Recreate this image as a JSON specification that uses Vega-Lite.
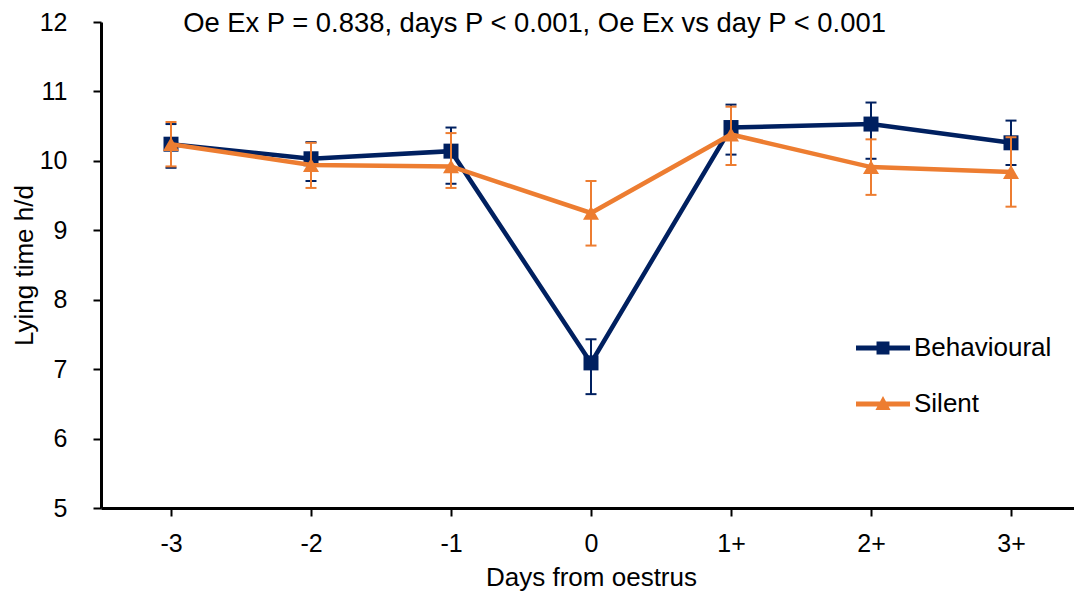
{
  "$schema": "https://vega.github.io/schema/vega-lite/v6.json",
  "width": 973,
  "height": 486,
  "autosize": {"type": "none"},
  "padding": {"left": 101, "top": 22, "right": 0, "bottom": 85},
  "background": "white",
  "config": {"font": "Liberation Sans", "view": {"stroke": null}},
  "title": {
    "text": "Oe Ex P = 0.838, days P < 0.001, Oe Ex vs day P < 0.001",
    "fontSize": 27.4, "fontWeight": "normal", "color": "black",
    "anchor": "middle", "frame": "group", "dx": -53, "dy": 33, "offset": -16, "baseline": "alphabetic"
  },
  "data": {"values": [
    {"day": "-3", "series": "Behavioural", "mean": 10.24, "lo": 9.90, "hi": 10.53},
    {"day": "-2", "series": "Behavioural", "mean": 10.03, "lo": 9.71, "hi": 10.27},
    {"day": "-1", "series": "Behavioural", "mean": 10.14, "lo": 9.67, "hi": 10.48},
    {"day": "0", "series": "Behavioural", "mean": 7.09, "lo": 6.64, "hi": 7.43},
    {"day": "1+", "series": "Behavioural", "mean": 10.48, "lo": 10.09, "hi": 10.81},
    {"day": "2+", "series": "Behavioural", "mean": 10.53, "lo": 10.03, "hi": 10.84},
    {"day": "3+", "series": "Behavioural", "mean": 10.26, "lo": 9.94, "hi": 10.58},
    {"day": "-3", "series": "Silent", "mean": 10.24, "lo": 9.92, "hi": 10.56},
    {"day": "-2", "series": "Silent", "mean": 9.94, "lo": 9.61, "hi": 10.26},
    {"day": "-1", "series": "Silent", "mean": 9.92, "lo": 9.61, "hi": 10.40},
    {"day": "0", "series": "Silent", "mean": 9.25, "lo": 8.78, "hi": 9.71},
    {"day": "1+", "series": "Silent", "mean": 10.38, "lo": 9.94, "hi": 10.78},
    {"day": "2+", "series": "Silent", "mean": 9.91, "lo": 9.51, "hi": 10.31},
    {"day": "3+", "series": "Silent", "mean": 9.84, "lo": 9.34, "hi": 10.34}
  ]},
  "encoding": {
    "x": {
      "field": "day", "type": "ordinal", "sort": ["-3", "-2", "-1", "0", "1+", "2+", "3+"],
      "scale": {"type": "point", "range": [0, 980], "padding": 0.5},
      "axis": {
        "title": "Days from oestrus", "labelAngle": 0, "grid": false,
        "domainColor": "black", "domainWidth": 3,
        "tickColor": "black", "tickWidth": 2, "tickSize": 8,
        "labelFontSize": 25, "labelColor": "black", "labelPadding": 15,
        "titleFontSize": 26, "titleFontWeight": "normal", "titleColor": "black", "titlePadding": 8
      }
    },
    "y": {
      "type": "quantitative",
      "scale": {"domain": [5, 12], "nice": false, "zero": false},
      "axis": {
        "title": "Lying time h/d", "grid": false, "values": [5, 6, 7, 8, 9, 10, 11, 12],
        "domainColor": "black", "domainWidth": 3,
        "tickColor": "black", "tickWidth": 2, "tickSize": 8,
        "labelFontSize": 25, "labelColor": "black", "labelPadding": 26,
        "titleFontSize": 26, "titleFontWeight": "normal", "titleColor": "black", "titlePadding": 2
      }
    }
  },
  "layer": [
    {
      "transform": [{"filter": "datum.series === 'Behavioural'"}],
      "layer": [
        {"mark": {"type": "rule", "color": "#002060", "strokeWidth": 2},
         "encoding": {"y": {"field": "lo"}, "y2": {"field": "hi"}}},
        {"mark": {"type": "tick", "color": "#002060", "thickness": 2, "size": 11, "opacity": 1},
         "encoding": {"y": {"field": "lo"}}},
        {"mark": {"type": "tick", "color": "#002060", "thickness": 2, "size": 11, "opacity": 1},
         "encoding": {"y": {"field": "hi"}}},
        {"mark": {"type": "line", "color": "#002060", "strokeWidth": 4.5},
         "encoding": {"y": {"field": "mean"}}},
        {"mark": {"type": "point", "shape": "square", "filled": true, "color": "#002060", "size": 225, "opacity": 1},
         "encoding": {"y": {"field": "mean"}}}
      ]
    },
    {
      "transform": [{"filter": "datum.series === 'Silent'"}],
      "layer": [
        {"mark": {"type": "rule", "color": "#ED7D31", "strokeWidth": 2},
         "encoding": {"y": {"field": "lo"}, "y2": {"field": "hi"}}},
        {"mark": {"type": "tick", "color": "#ED7D31", "thickness": 2, "size": 11, "opacity": 1},
         "encoding": {"y": {"field": "lo"}}},
        {"mark": {"type": "tick", "color": "#ED7D31", "thickness": 2, "size": 11, "opacity": 1},
         "encoding": {"y": {"field": "hi"}}},
        {"mark": {"type": "line", "color": "#ED7D31", "strokeWidth": 4.5},
         "encoding": {"y": {"field": "mean"}}},
        {"mark": {"type": "point", "shape": "triangle-up", "filled": true, "color": "#ED7D31", "size": 256, "opacity": 1},
         "encoding": {"y": {"field": "mean"}}}
      ]
    },
    {
      "transform": [{"filter": "false"}],
      "mark": {"type": "point", "filled": true, "opacity": 1},
      "encoding": {
        "y": {"field": "mean"},
        "color": {
          "field": "series", "type": "nominal",
          "scale": {"domain": ["Behavioural", "Silent"], "range": ["#002060", "#ED7D31"]},
          "legend": {"title": null, "orient": "none", "legendX": 755, "legendY": 299, "padding": 0,
                     "symbolSize": 2916, "symbolStrokeWidth": 0, "symbolOpacity": 1,
                     "labelFontSize": 26, "labelColor": "black", "labelOffset": 4, "rowPadding": 16}
        },
        "shape": {
          "field": "series", "type": "nominal",
          "scale": {"domain": ["Behavioural", "Silent"],
                    "range": ["M-1,-0.09H1V0.09H-1Z M-0.24,-0.24H0.24V0.24H-0.24Z",
                              "M-1,-0.09H1V0.09H-1Z M0,-0.3L0.28,0.22H-0.28Z"]},
          "legend": {"title": null, "orient": "none", "legendX": 755, "legendY": 299, "padding": 0,
                     "symbolSize": 2916, "symbolStrokeWidth": 0, "symbolOpacity": 1,
                     "labelFontSize": 26, "labelColor": "black", "labelOffset": 4, "rowPadding": 16}
        }
      }
    }
  ]
}
